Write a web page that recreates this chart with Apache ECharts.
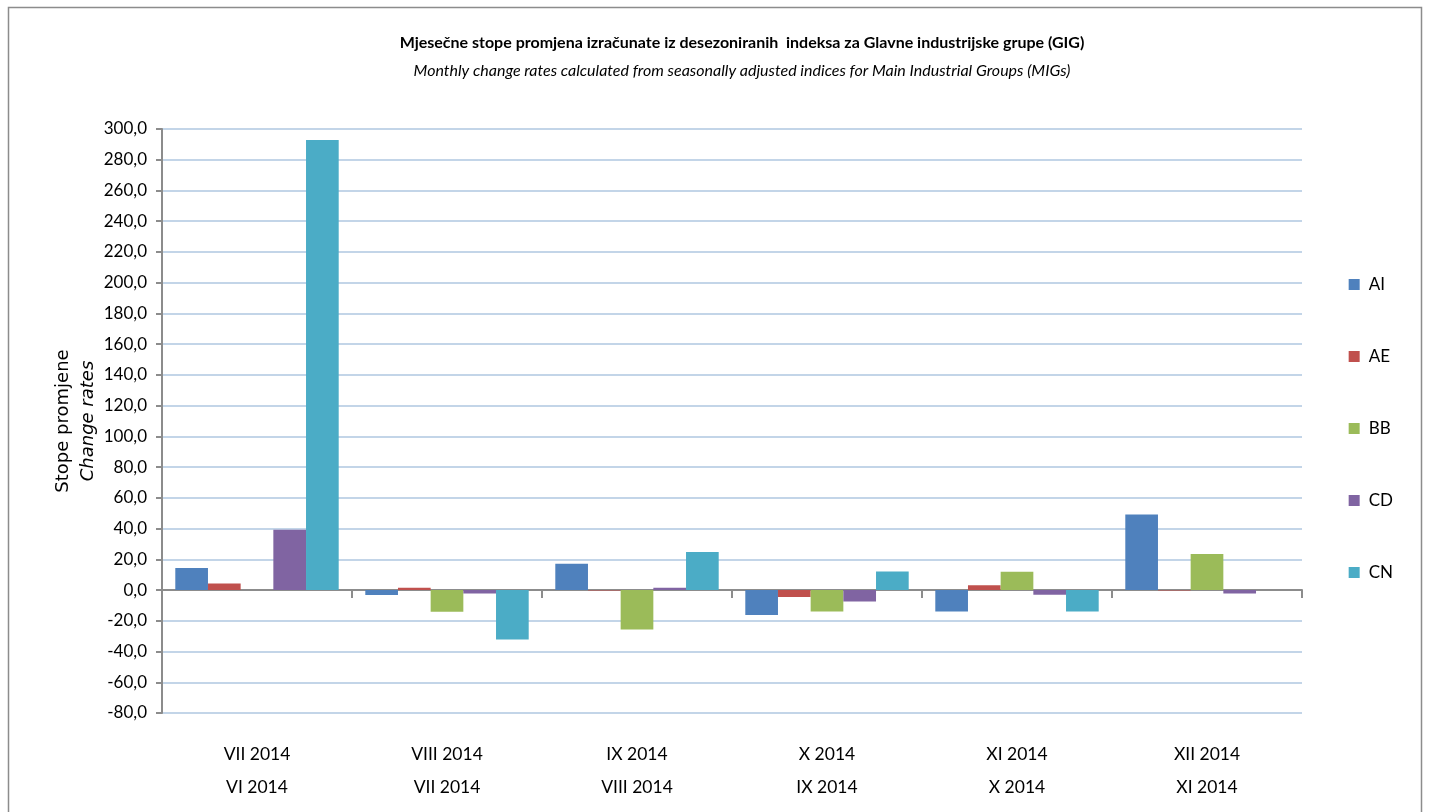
<!DOCTYPE html>
<html><head><meta charset="utf-8">
<script src="https://cdn.jsdelivr.net/npm/echarts@6/dist/echarts.min.js"></script>
<style>html,body{margin:0;padding:0;background:#fff}#c{width:1430px;height:812px}</style>
</head><body><div id="c"></div>
<script>
const categoriesTop = ['VII 2014','VIII 2014','IX 2014','X 2014','XI 2014','XII 2014'];
const categoriesBottom = ['VI 2014','VII 2014','VIII 2014','IX 2014','X 2014','XI 2014'];
const seriesNames = ['AI','AE','BB','CD','CN'];
const AI = [14.3, -3.3, 17.1, -16.3, -14.0, 49.2];
const AE = [4.3, 1.5, -0.3, -4.6, 3.1, -0.3];
const BB = [0.0, -14.1, -25.6, -14.0, 11.9, 23.4];
const CD = [39.2, -2.2, 1.5, -7.4, -3.1, -2.2];
const CN = [292.8, -32.1, 24.7, 12.1, -14.0, 0.0];
const colors = ['#4F81BD','#C0504D','#9BBB59','#8064A2','#4BACC6'];
const FONT = 'Lato,"Open Sans",sans-serif';
const values = [AI, AE, BB, CD, CN];
const cats = categoriesTop.map((t,i)=>t+'\n'+categoriesBottom[i]);

const chart = echarts.init(document.getElementById('c'));
chart.setOption({
  animation:false,
  color: colors,
  graphic:[{type:'rect',shape:{x:8.5,y:7.5,width:1413,height:820},style:{fill:'none',stroke:'#8c8c8c',lineWidth:1.5}}],
  title:{
    text:'Mjesečne stope promjena izračunate iz desezoniranih  indeksa za Glavne industrijske grupe (GIG)',
    subtext:'Monthly change rates calculated from seasonally adjusted indices for Main Industrial Groups (MIGs)',
    left: 737, textAlign:'center', top:30, itemGap:12,
    textStyle:{fontFamily:FONT,fontSize:16,fontWeight:'bold',color:'#000'},
    subtextStyle:{fontFamily:FONT,fontSize:16,fontStyle:'italic',color:'#000'}
  },
  legend:{
    orient:'vertical', right:32, top:271, itemGap:55,
    itemWidth:11, itemHeight:11, icon:'rect',
    textStyle:{fontFamily:FONT,fontSize:17,color:'#000',padding:[0,0,0,4]},
    data: seriesNames
  },
  grid:{left:162, right:128, top:129, bottom:99, containLabel:false},
  xAxis:[{
    type:'category', data:cats, position:'bottom',
    axisLine:{show:false,onZero:false}, axisTick:{show:false},
    axisLabel:{fontFamily:FONT,fontSize:17.5,color:'#000',lineHeight:33,margin:25}
  },{
    type:'category', data:cats, position:'bottom',
    axisLine:{show:true,onZero:true,lineStyle:{color:'#8c8c8c',width:2}},
    axisTick:{show:true,alignWithLabel:false,length:8,lineStyle:{color:'#8c8c8c',width:2}},
    axisLabel:{show:false}
  }],
  yAxis:{
    type:'value', min:-80, max:300, interval:20,
    name:'{a|Stope promjene}\n{b|Change rates}',
    nameLocation:'middle', nameGap:61, nameRotate:90, nameMoveOverlap:false,
    nameTextStyle:{rich:{
      a:{fontFamily:'"DejaVu Sans",sans-serif',fontSize:18,color:'#000',lineHeight:25},
      b:{fontFamily:'"DejaVu Sans",sans-serif',fontSize:18,fontStyle:'italic',color:'#000',lineHeight:25}
    }},
    axisLine:{show:true,lineStyle:{color:'#8c8c8c',width:2}},
    axisTick:{show:true,length:6,lineStyle:{color:'#8c8c8c',width:2}},
    splitLine:{lineStyle:{color:'#C3D5E8',width:2}},
    axisLabel:{fontFamily:FONT,fontSize:17,color:'#000',margin:15,
      formatter:v=>v.toFixed(1).replace('.',',')}
  },
  series: seriesNames.map((n,i)=>({
    name:n, type:'bar', data:values[i], xAxisIndex:0,
    barGap:'0%', barCategoryGap:'14%',
    itemStyle:{color:colors[i]}
  }))
});
</script></body></html>
